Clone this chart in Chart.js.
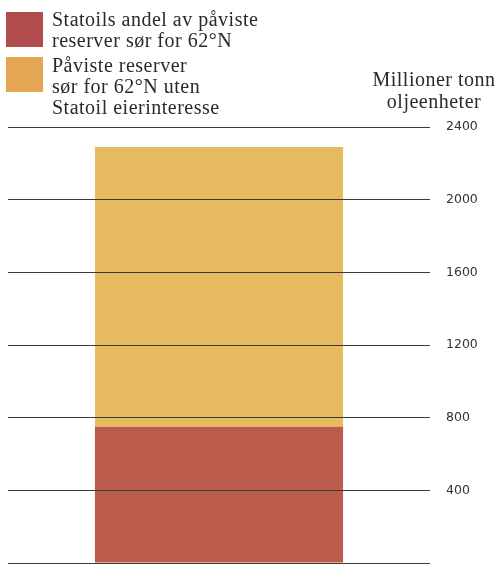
<!DOCTYPE html>
<html>
<head>
<meta charset="utf-8">
<script src="https://cdn.jsdelivr.net/npm/chart.js@4"></script>
<style>
  html, body { margin:0; padding:0; background:#fff; }
  #wrap { position:relative; width:497px; height:564px; overflow:hidden; }
  canvas { position:absolute; left:0; top:0; }
  .leg { position:absolute; font-family:"Liberation Serif", "DejaVu Serif", serif; font-size:20px; letter-spacing:0.5px; line-height:21px; color:#2a2a2a; white-space:nowrap; }
  .sw { position:absolute; width:37px; height:35px; }
  #ytitle { position:absolute; left:354px; top:68px; width:160px; text-align:center; font-family:"Liberation Serif", serif; font-size:20px; letter-spacing:0.5px; line-height:22px; color:#2a2a2a; white-space:nowrap; }
</style>
</head>
<body>
<div id="wrap">
  <canvas id="c" width="497" height="564"></canvas>
  <div class="sw" id="sw0" style="left:6px;top:12px;"></div>
  <div class="leg" id="lg0" style="left:52px;top:9px;"></div>
  <div class="sw" id="sw1" style="left:6px;top:57px;"></div>
  <div class="leg" id="lg1" style="left:52px;top:55px;"></div>
  <div id="ytitle">Millioner tonn<br>oljeenheter</div>
</div>
<script>
const categories = ["Påviste reserver"];
const statoilShare = [750];
const otherReserves = [1540];
const seriesNames = [
  ["Statoils andel av påviste", "reserver sør for 62°N"],
  ["Påviste reserver", "sør for 62°N uten", "Statoil eierinteresse"]
];
const seriesColors = ["#bb5c4a", "#e7bb60"];
const legendColors = ["#b04c4c", "#e4a652"];
const yTicks = [0, 400, 800, 1200, 1600, 2000, 2400];

document.getElementById('lg0').innerHTML = seriesNames[0].join('<br>');
document.getElementById('lg1').innerHTML = seriesNames[1].join('<br>');
document.getElementById('sw0').style.background = legendColors[0];
document.getElementById('sw1').style.background = legendColors[1];

const chart = new Chart(document.getElementById('c'), {
  type: 'bar',
  data: {
    labels: categories,
    datasets: [
      { label: seriesNames[0].join(' '), data: statoilShare, backgroundColor: seriesColors[0], borderWidth: 0 },
      { label: seriesNames[1].join(' '), data: otherReserves, backgroundColor: seriesColors[1], borderWidth: 0 }
    ]
  },
  options: {
    responsive: false,
    animation: false,
    layout: { autoPadding: false, padding: { left: 8, right: 0, top: 127, bottom: 1 } },
    plugins: { legend: { display: false }, tooltip: { enabled: false } },
    datasets: { bar: { barPercentage: 1, categoryPercentage: 0.588 } },
    scales: {
      x: { stacked: true, display: false },
      y: {
        stacked: true,
        position: 'right',
        min: 0, max: 2400,
        afterBuildTicks: (s) => { s.ticks = yTicks.map(v => ({ value: v })); },
        afterFit: (s) => { s.width = 67; },
        border: { display: false },
        grid: { color: '#3a3a3a', lineWidth: 1, drawTicks: true, tickLength: 16, tickColor: 'rgba(0,0,0,0)', z: 1 },
        ticks: {
          padding: 0,
          color: '#333',
          z: 1,
          font: (ctx) => ({ family: 'DejaVu Sans', size: (ctx.tick && ctx.tick.value === 0) ? 1 : 12.5 }),
          callback: (v) => v === 0 ? '' : String(v)
        }
      }
    }
  }
});
</script>
</body>
</html>
